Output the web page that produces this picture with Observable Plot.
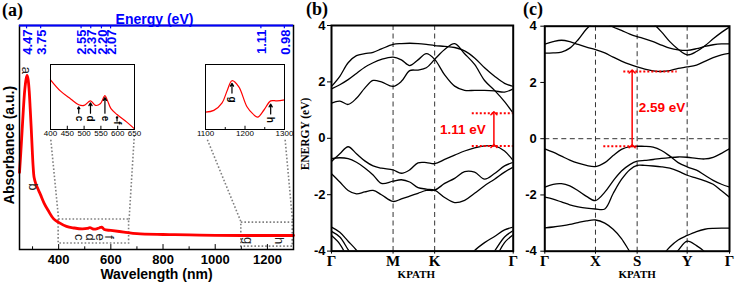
<!DOCTYPE html>
<html><head><meta charset="utf-8">
<script src="https://cdn.jsdelivr.net/npm/d3@7"></script>
<script src="https://cdn.jsdelivr.net/npm/@observablehq/plot@0.6"></script>
<style>
body{margin:0;background:#fff;}
#fig{position:relative;width:736px;height:288px;overflow:hidden;background:#fff;}
.plab{position:absolute;font-family:"Liberation Serif","Times New Roman",serif;font-weight:bold;font-size:18px;line-height:1;}
.rlab{position:absolute;white-space:nowrap;line-height:1;transform:translate(-50%,-50%) rotate(-90deg);font-weight:bold;}
</style></head><body><div id="fig"></div>
<script>
// ---------- Panel (a): absorbance spectrum ----------
const wavelength = [250,255,260,265,270,275,279,283,287,291,295,299,302,306,312,320,330,345,360,380,400,430,460,490,510,520,530,545,555,565,575,600,650,700,800,900,1000,1100,1200,1300];
const absorbance = [0.344,0.433,0.531,0.629,0.71,0.759,0.777,0.759,0.71,0.629,0.54,0.442,0.375,0.321,0.295,0.272,0.246,0.205,0.174,0.138,0.121,0.103,0.096,0.092,0.094,0.098,0.092,0.092,0.096,0.1,0.089,0.085,0.078,0.071,0.067,0.065,0.063,0.0625,0.0625,0.0625];
const wlTicks = [400,600,800,1000,1200];
const wlMinor = [300,500,700,900,1100,1300];
const energyLabels = ["4.47","3.75","2.55","2.37","2.20","2.07","1.11","0.98"];
const energyTickNm = [277,331,486,523,564,599,1175,1265];
const peakLetters = [
  {t:"a", w:277, a:0.80},{t:"b", w:302, a:0.28},
  {t:"c", w:480, a:0.055},{t:"d", w:520, a:0.055},{t:"e", w:558, a:0.055},{t:"f", w:593, a:0.055},
  {t:"g", w:1127, a:0.04},{t:"h", w:1245, a:0.04}
];
const zoomBoxes = [{x1:400,x2:670,y1:0.027,y2:0.134},{x1:1100,x2:1297,y1:0.013,y2:0.12}];
const connectors = [
  {x1:370,y1:0.49,x2:400,y2:0.134},{x1:690,y1:0.51,x2:670,y2:0.134},
  {x1:970,y1:0.49,x2:1100,y2:0.12},{x1:1268,y1:0.49,x2:1297,y2:0.12}
];
// inset 1 (400-650 nm)
const inset1Nm  = [400,430,460,484,500,519,534,549,562,570,580,598,628,650];
const inset1Abs = [0.765,0.59,0.47,0.38,0.37,0.44,0.37,0.40,0.52,0.44,0.32,0.23,0.11,0.01];
const inset1Ticks = [400,450,500,550,600,650];
const inset1Arrows = [{w:484,y1:0.25,y2:0.35},{w:519,y1:0.25,y2:0.41},{w:562,y1:0.25,y2:0.49},{w:598,y1:0.13,y2:0.2}];
const inset1Letters = [{t:"c",w:484,a:0.17},{t:"d",w:519,a:0.17},{t:"e",w:562,a:0.17},{t:"f",w:598,a:0.1}];
// inset 2 (1100-1300 nm)
const inset2Nm  = [1100,1121,1142,1155,1167,1184,1205,1220,1232,1248,1265,1281,1300];
const inset2Abs = [0.268,0.294,0.41,0.6,0.75,0.66,0.35,0.24,0.19,0.3,0.44,0.44,0.455];
const inset2Ticks = [1100,1200,1300];
const inset2Minor = [1150,1250];
const inset2Arrows = [{w:1167,y1:0.56,y2:0.71},{w:1265,y1:0.24,y2:0.39}];
const inset2Letters = [{t:"g",w:1167,a:0.46},{t:"h",w:1265,a:0.15}];

// ---------- Panel (b): band structure ----------
const kB = [0,0.25,0.5,0.75,1,1.25,1.5,1.85,2.1,2.35,2.6,2.85,3.1,3.4,3.7,4,4.3,4.6,4.9,5.2,5.46];
const kTicksB = [0,1.85,3.1,5.46];
const kLabelsB = ["Γ","M","K","Γ"];
const condB1 = [1.84,2.2,2.68,2.93,3.0,3.05,3.17,3.33,3.36,3.37,3.36,3.33,3.29,3.26,3.22,3.1,2.85,2.5,2.2,1.95,1.84];
const condB2 = [1.75,1.9,2.08,2.3,2.52,2.68,2.8,2.88,2.78,2.58,2.78,3.0,2.8,2.25,1.85,1.7,1.7,1.7,1.68,1.64,1.75];
const condB3 = [1.25,1.32,1.2,1.42,1.78,2.05,2.0,1.84,2.02,2.4,2.42,2.5,2.8,3.15,3.36,3.0,2.62,2.05,1.7,1.3,0.89];
const valB1 = [-0.82,-0.55,-0.3,-0.55,-0.8,-0.98,-1.06,-1.12,-1.24,-1.12,-0.87,-0.86,-0.9,-0.75,-0.6,-0.45,-0.34,-0.27,-0.27,-0.45,-0.79];
const valB2 = [-0.72,-0.69,-0.72,-0.85,-1.05,-1.3,-1.6,-1.52,-1.47,-1.55,-1.75,-1.8,-1.84,-2.1,-2.28,-2.2,-1.95,-1.68,-1.45,-1.2,-1.02];
const valB3 = [-1.26,-1.55,-1.85,-1.97,-1.9,-1.85,-2.0,-2.24,-2.15,-2.05,-1.95,-1.85,-1.84,-1.6,-1.42,-1.18,-1.2,-1.45,-1.25,-0.98,-0.85];
const deepB1 = [-3.15,-3.33,-3.65,-3.97,-4.4,null,null,null,null,null,null,null,null,null,null,-4.4,-3.98,-3.7,-3.48,-3.25,-3.15];
const deepB2 = [-3.3,-3.5,-3.95,-4.4,null,null,null,null,null,null,null,null,null,null,null,null,null,-4.5,-4.0,-3.5,-3.27];
const deepB3 = [-3.45,-3.75,-4.3,null,null,null,null,null,null,null,null,null,null,null,null,null,null,null,-4.35,-3.7,-3.42];
const gapB = {label:"1.11 eV", cbm:0.89, vbm:-0.27, x1:4.23, x2:5.46, xArrow:4.88, xLabel:3.95, yLabel:0.3};

// ---------- Panel (c): band structure ----------
const kC = [0,0.25,0.5,0.75,1,1.25,1.52,1.8,2.05,2.3,2.55,2.77,3,3.25,3.5,3.75,4,4.27,4.55,4.8,5.05,5.3,5.54];
const kTicksC = [0,1.52,2.77,4.27,5.54];
const kLabelsC = ["Γ","X","S","Y","Γ"];
const condC1 = [3.36,3.45,3.5,3.45,3.35,3.26,3.17,3.05,2.9,2.76,2.64,2.55,2.47,2.41,2.39,2.42,2.5,2.55,2.62,2.75,2.88,2.98,3.04];
const condC2 = [3.04,3.05,3.08,3.22,3.52,3.9,4.2,null,null,null,null,null,null,null,null,null,null,null,null,null,null,null,null];
const condC3 = [null,null,null,null,null,null,null,4.15,3.97,3.85,3.72,3.63,3.55,3.45,3.33,3.22,3.16,3.14,3.2,3.28,3.34,3.37,3.37];
const condC4 = [null,null,null,null,null,null,null,null,null,null,null,null,null,4.1,3.8,3.45,3.18,2.98,3.1,3.3,3.55,3.78,3.97];
const valC1 = [-0.36,-0.48,-0.62,-0.76,-0.87,-0.95,-0.99,-0.85,-0.6,-0.38,-0.28,-0.27,-0.27,-0.3,-0.42,-0.62,-0.85,-1.0,-1.12,-1.3,-1.48,-1.62,-1.72];
const valC2 = [-1.72,-1.62,-1.6,-1.68,-1.85,-2.05,-2.2,-1.9,-1.5,-1.15,-0.92,-0.8,-0.77,-0.74,-0.7,-0.67,-0.65,-0.66,-0.7,-0.72,-0.66,-0.52,-0.36];
const valC3 = [-2.08,-2.15,-2.25,-2.35,-2.42,-2.47,-2.5,-2.5,-1.95,-1.45,-1.1,-0.95,-0.95,-0.97,-1.0,-1.05,-1.15,-1.3,-1.4,-1.5,-1.62,-1.85,-2.08];
const deepC1 = [-3.17,-3.14,-3.1,-3.05,-2.98,-2.92,-2.89,-3.0,-3.22,-3.55,-4.02,-4.4,null,-4.6,-4.2,-3.85,-3.6,-3.44,-3.3,-3.22,-3.19,-3.18,-3.18];
const deepC2 = [null,null,null,null,null,null,null,null,null,null,null,null,null,null,null,-4.3,-3.97,-3.64,-3.8,-4.03,-4.4,null,null];
const gapC = {label:"2.59 eV", cbm:2.39, vbm:-0.27, x1c:2.37, x2c:3.97, x1v:1.77, x2v:2.77, xArrow:2.62, xLabel:2.82, yLabel:1.12};
const energyTicks = [-4,-2,0,2,4];

// ---------- drawing ----------
const sans = "'Liberation Sans', Arial, sans-serif";
const serif = "'Liberation Serif', 'Times New Roman', serif";
const fig = document.getElementById("fig");
function place(node, left, top) {
  const d = document.createElement("div");
  d.style.position = "absolute"; d.style.left = left + "px"; d.style.top = top + "px";
  d.appendChild(node); fig.appendChild(d); return d;
}
function rotLabel(text, cx, cy, size, family, color) {
  const s = document.createElement("div"); s.className = "rlab"; s.textContent = text;
  s.style.left = cx + "px"; s.style.top = cy + "px"; s.style.fontSize = size + "px";
  s.style.fontFamily = family; s.style.color = color || "black"; fig.appendChild(s);
}
const baseStyle = {background: "transparent", overflow: "visible", fontFamily: sans};

// Panel (a)
const mainData = wavelength.map((w, i) => ({w, a: absorbance[i]}));
const grey = "#808080";
const plotA = Plot.plot({
  width: 298, height: 288, marginLeft: 19, marginRight: 5, marginTop: 25, marginBottom: 39,
  style: baseStyle,
  x: {domain: [250, 1300], axis: null},
  y: {domain: [0, 1], axis: null},
  marks: [
    Plot.rect(zoomBoxes, {x1: "x1", x2: "x2", y1: "y1", y2: "y2", fill: "none", stroke: grey, strokeWidth: 1.6, strokeDasharray: "1.6,2"}),
    Plot.link(connectors, {x1: "x1", y1: "y1", x2: "x2", y2: "y2", stroke: grey, strokeWidth: 1.6, strokeDasharray: "1.6,2"}),
    Plot.ruleX(wlMinor, {x: d => d, y1: 0, y2: 0.012, stroke: "black"}),
    Plot.ruleX(wlTicks, {x: d => d, y1: 0, y2: 0.022, stroke: "black"}),
    Plot.line(mainData, {x: "w", y: "a", stroke: "#ff0000", strokeWidth: 2.8, curve: "catmull-rom"}),
    Plot.frame({stroke: "black", strokeWidth: 1.5}),
    Plot.ruleY([1], {y: d => d, stroke: "blue", strokeWidth: 2.2}),
    Plot.ruleX(energyTickNm, {x: d => d, y1: 1, y2: 0.985, stroke: "blue", strokeWidth: 1.2}),
    Plot.text(energyTickNm, {x: d => d, frameAnchor: "top", dy: 4, dx: -4, text: (d, i) => energyLabels[i], rotate: -90, textAnchor: "end", fill: "blue", fontWeight: "bold", fontSize: 13}),
    Plot.text(wlTicks, {x: d => d, frameAnchor: "bottom", dy: 14, text: d => String(d), fontWeight: "bold", fontSize: 13}),
    Plot.text(["Wavelength (nm)"], {frameAnchor: "bottom", dy: 29, fontSize: 14, fontWeight: "bold"}),
    Plot.text(["Energy (eV)"], {frameAnchor: "top", dy: -11, dx: -2, fill: "blue", fontSize: 14, fontWeight: "bold"}),
    Plot.text(peakLetters, {x: "w", y: "a", text: "t", rotate: 90, fontSize: 13, fill: "#222"})
  ]
});
place(plotA, 0, 0);
rotLabel("Absorbance (a.u.)", 9, 145, 14, sans);

function inset(nm, ab, domain, ticks, minor, arrows, letters, width) {
  const data = nm.map((w, i) => ({w, a: ab[i]}));
  return Plot.plot({
    width, height: 84, marginLeft: 10, marginRight: 10, marginTop: 6, marginBottom: 13,
    style: baseStyle,
    x: {domain, axis: null}, y: {domain: [0, 1], axis: null},
    marks: [
      Plot.ruleX(ticks, {x: d => d, y1: 0, y2: 0.05, stroke: "black"}),
      Plot.ruleX(minor, {x: d => d, y1: 0, y2: 0.03, stroke: "black"}),
      Plot.line(data, {x: "w", y: "a", stroke: "#ff0000", strokeWidth: 1.2, curve: "catmull-rom"}),
      Plot.frame({stroke: "black", strokeWidth: 1}),
      Plot.arrow(arrows, {x1: "w", x2: "w", y1: "y1", y2: "y2", stroke: "black", strokeWidth: 1.2, headLength: 4}),
      Plot.text(letters, {x: "w", y: "a", text: "t", rotate: 90, fontSize: 10, fontWeight: "bold"}),
      Plot.text(ticks, {x: d => d, frameAnchor: "bottom", dy: 6, text: d => String(d), fontSize: 8})
    ]
  });
}
place(inset(inset1Nm, inset1Abs, [400, 650], inset1Ticks, [], inset1Arrows, inset1Letters, 104), 40, 58);
place(inset(inset2Nm, inset2Abs, [1100, 1300], inset2Ticks, inset2Minor, inset2Arrows, inset2Letters, 99), 195, 58);

function bandRows(k, bands) {
  return bands.flatMap(([name, vals]) => k.map((kk, i) => ({k: kk, e: vals[i], band: name})));
}

function bandPanel(o) {
  const rows = bandRows(o.k, o.bands);
  const marks = [
    Plot.ruleX(o.dashedX, {x: d => d, stroke: "#333", strokeWidth: 1, strokeDasharray: "5,3.5"}),
  ];
  if (o.zeroLine) marks.push(Plot.ruleY([0], {y: d => d, stroke: "#333", strokeWidth: 1, strokeDasharray: "5,3.5"}));
  marks.push(
    Plot.line(rows, {x: "k", y: "e", z: "band", stroke: "black", strokeWidth: 1.3, curve: "catmull-rom", clip: true}),
    ...o.gapMarks,
    Plot.frame({stroke: "black", strokeWidth: 2}),
    Plot.axisY({ticks: energyTicks, tickFormat: d => String(d), tickSize: 4, tickPadding: o.yPad, fontSize: 13, fontWeight: "bold", fontFamily: sans, label: null}),
    Plot.axisX({ticks: o.kTicks, tickFormat: d => o.kLabels[o.kTicks.indexOf(d)], tickSize: 3, tickPadding: 1.5, fontSize: 15, fontWeight: "bold", fontFamily: serif, label: null}),
    Plot.text(["KPATH"], {frameAnchor: "bottom", dy: 27, dx: o.kpathDx, fontSize: 11, fontWeight: "bold", fontFamily: serif})
  );
  return Plot.plot({
    width: o.width, height: 288, marginLeft: o.ml, marginRight: o.mr, marginTop: o.mt, marginBottom: o.mb,
    style: baseStyle,
    x: {domain: [o.k[0], o.k[o.k.length - 1]], axis: null},
    y: {domain: [-4, 4], axis: null},
    marks
  });
}

const redDot = {stroke: "#ff0000", strokeWidth: 2, strokeDasharray: "2,2"};
const gapMarksB = [
  Plot.ruleY([gapB.cbm, gapB.vbm], {y: d => d, x1: gapB.x1, x2: gapB.x2, ...redDot}),
  Plot.link([gapB], {x1: "xArrow", x2: "xArrow", y1: "vbm", y2: "cbm", stroke: "#ff0000", strokeWidth: 1.5, markerStart: "arrow", markerEnd: "arrow"}),
  Plot.text([gapB], {x: "xLabel", y: "yLabel", text: "label", fill: "#ff0000", fontSize: 13.5, fontWeight: "bold", fontFamily: sans})
];
place(bandPanel({
  width: 218, ml: 33, mr: 3.3, mt: 25, mb: 37.4, k: kB, kTicks: kTicksB, kLabels: kLabelsB,
  dashedX: [kTicksB[1], kTicksB[2]], zeroLine: false, yPad: 2, kpathDx: -6,
  bands: [["c1", condB1], ["c2", condB2], ["c3", condB3], ["v1", valB1], ["v2", valB2], ["v3", valB3], ["d1", deepB1], ["d2", deepB2], ["d3", deepB3]],
  gapMarks: gapMarksB
}), 298, 0);
rotLabel("ENERGY (eV)", 305.5, 134, 11.5, serif);

const gapMarksC = [
  Plot.ruleY([gapC], {y: "cbm", x1: "x1c", x2: "x2c", ...redDot}),
  Plot.ruleY([gapC], {y: "vbm", x1: "x1v", x2: "x2v", ...redDot}),
  Plot.link([gapC], {x1: "xArrow", x2: "xArrow", y1: "vbm", y2: "cbm", stroke: "#ff0000", strokeWidth: 1.5, markerStart: "arrow", markerEnd: "arrow"}),
  Plot.text([gapC], {x: "xLabel", y: "yLabel", text: "label", textAnchor: "start", fill: "#ff0000", fontSize: 13.5, fontWeight: "bold", fontFamily: sans})
];
place(bandPanel({
  width: 220, ml: 28.3, mr: 7, mt: 25.7, mb: 37.3, k: kC, kTicks: kTicksC, kLabels: kLabelsC,
  dashedX: [kTicksC[1], kTicksC[2], kTicksC[3]], zeroLine: true, yPad: 4, kpathDx: 0,
  bands: [["c1", condC1], ["c2", condC2], ["c3", condC3], ["c4", condC4], ["v1", valC1], ["v2", valC2], ["v3", valC3], ["d1", deepC1], ["d2", deepC2]],
  gapMarks: gapMarksC
}), 516, 0);

// panel letters
[["(a)", 2, 1], ["(b)", 306, 0], ["(c)", 523, 0]].forEach(([t, x, y]) => {
  const s = document.createElement("div"); s.className = "plab"; s.textContent = t;
  s.style.left = x + "px"; s.style.top = y + "px"; fig.appendChild(s);
});
</script></body></html>
